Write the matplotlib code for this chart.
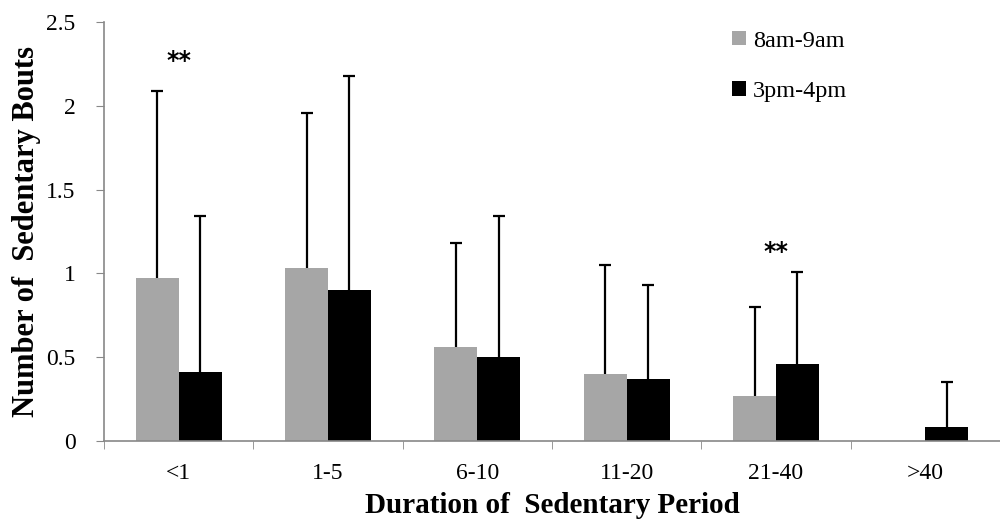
import numpy as np
import matplotlib.pyplot as plt

plt.rcParams['font.family'] = ['Liberation Serif', 'DejaVu Serif']

categories = ['<1', '1-5', '6-10', '11-20', '21-40', '>40']
morning = [0.97, 1.03, 0.56, 0.40, 0.27, 0.0]
morning_sd = [1.12, 0.93, 0.62, 0.65, 0.53, 0.0]
afternoon = [0.41, 0.90, 0.50, 0.37, 0.46, 0.08]
afternoon_sd = [0.93, 1.28, 0.84, 0.56, 0.55, 0.27]
sig_idx = [0, 4]
sig_y = [2.27, 1.13]

fig = plt.figure(figsize=(10, 5.28), dpi=100)
ax = fig.add_axes([0.104, 0.165, 0.896, 0.793])

x = np.arange(len(categories))
w = 0.287
grey = '#a6a6a6'


def upper_err(xs, ys, err):
    # only the upward half of the error bar, cap on top
    eb = ax.errorbar(xs, ys, yerr=[np.zeros(len(ys)), err], fmt='none',
                     ecolor='black', elinewidth=1.6, capsize=4, capthick=1.6, zorder=3)
    eb[1][0].set_visible(False)


# morning bars (skip the empty last group)
mx = x[:5] - w / 2
ax.bar(mx, morning[:5], w, color=grey, label='8am-9am', zorder=2)
upper_err(mx, morning[:5], morning_sd[:5])

ax.bar(x + w / 2, afternoon, w, color='black', label='3pm-4pm', zorder=2)
upper_err(x + w / 2, afternoon, afternoon_sd)

for i, yy in zip(sig_idx, sig_y):
    ax.text(x[i], yy, '**', ha='center', va='center', fontsize=17,
            fontweight='bold', family='DejaVu Sans')

ax.set_xlim(-0.5, 5.5)
ax.set_ylim(0, 2.5)
ax.set_yticks([0, 0.5, 1, 1.5, 2, 2.5])
ax.set_yticklabels(['0', '0.5', '1', '1.5', '2', '2.5'], fontsize=17)
ax.set_xticks(x)
ax.set_xticklabels(categories, fontsize=17)
ax.set_xticks(np.arange(-0.5, 6, 1), minor=True)
ax.tick_params(axis='x', which='major', length=0, pad=16)
ax.tick_params(axis='x', which='minor', length=6, color='#888888', direction='out')
ax.tick_params(axis='y', length=6, color='#888888', direction='out', pad=14.5)

for s in ['top', 'right']:
    ax.spines[s].set_visible(False)
for s in ['left', 'bottom']:
    ax.spines[s].set_color('#888888')
    ax.spines[s].set_linewidth(1.2)

ax.set_ylabel('Number of  Sedentary Bouts', fontsize=22, fontweight='bold', labelpad=4)
ax.set_xlabel('Duration of  Sedentary Period', fontsize=21, fontweight='bold', labelpad=6)

ax.legend(loc='upper left', bbox_to_anchor=(0.677, 1.032), frameon=False, fontsize=17.5,
          handlelength=0.55, handleheight=0.55, handletextpad=0.3, labelspacing=1.2)

fig.savefig('out.png', dpi=100)
